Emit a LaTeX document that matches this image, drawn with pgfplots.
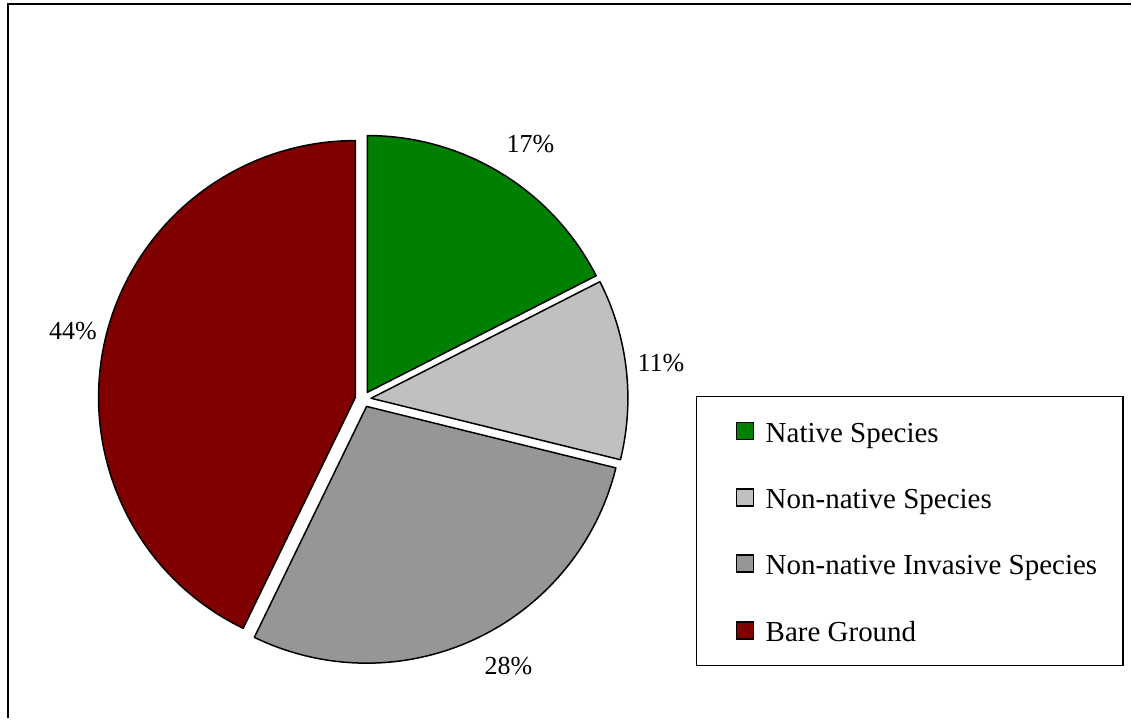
\documentclass[border=0pt]{standalone}
\usepackage{fontspec}
\setmainfont{Liberation Serif}
\usepackage{pgfplots}
\usepackage{pgfplotstable}
\pgfplotsset{compat=1.18}

\definecolor{native}{HTML}{008000}
\definecolor{nonnative}{HTML}{C0C0C0}
\definecolor{invasive}{HTML}{969696}
\definecolor{bare}{HTML}{800000}

% one row per slice: share as drawn (%), printed label, fill, label position, legend row
\pgfplotstableread{
name value lab col lx ly legy
{Native Species} 17.5 17 native 531 575 287.5
{Non-native Species} 11.35 11 nonnative 661.5 356 221
{Non-native Invasive Species} 28.35 28 invasive 509 52 155
{Bare Ground} 42.8 44 bare 73 388 88
}\pietable

\newcommand\labelfont{\fontsize{13pt}{15pt}\selectfont}
\newcommand\legfont{\fontsize{14.5pt}{17pt}\selectfont}

\begin{document}
\begin{tikzpicture}
\begin{axis}[width=566pt, height=359.5pt, scale only axis,
  xmin=0, xmax=1132, ymin=0, ymax=719, hide axis, clip=false]
\fill[white] (axis cs:0,0) rectangle (axis cs:1132,719);
\draw[line width=1pt] (axis cs:8,0) |- (axis cs:1132,715);
% legend box
\draw[line width=0.75pt] (axis cs:697,53) rectangle (axis cs:1124,322);
\pgfplotstablegetrowsof{\pietable}
\pgfmathtruncatemacro\nrows{\pgfplotsretval-1}
\def\cum{0}
\pgfplotsforeachungrouped \i in {0,...,\nrows}{
  \pgfplotstablegetelem{\i}{value}\of\pietable \let\sval\pgfplotsretval
  \pgfplotstablegetelem{\i}{lab}\of\pietable \let\slab\pgfplotsretval
  \pgfplotstablegetelem{\i}{col}\of\pietable \let\scol\pgfplotsretval
  \pgfplotstablegetelem{\i}{lx}\of\pietable \let\slx\pgfplotsretval
  \pgfplotstablegetelem{\i}{ly}\of\pietable \let\sly\pgfplotsretval
  \pgfplotstablegetelem{\i}{legy}\of\pietable \let\sleg\pgfplotsretval
  \pgfplotstablegetelem{\i}{name}\of\pietable \let\sname\pgfplotsretval
  \pgfmathsetmacro\as{90-3.6*\cum}
  \pgfmathsetmacro\ae{90-3.6*(\cum+\sval)}
  \pgfmathsetmacro\am{(\as+\ae)/2}
  \pgfmathsetmacro\vx{363.5+8*cos(\am)}
  \pgfmathsetmacro\vy{319.5+8*sin(\am)}
  \pgfmathsetmacro\lsb{\sleg-8.5}
  \pgfmathsetmacro\lst{\sleg+8.5}
  \pgfmathsetmacro\lbase{\sleg-11}
  \edef\temp{%
    \noexpand\draw[fill=\scol, line width=0.75pt, line join=round]
      (axis cs:\vx,\vy) -- ++(\as:128.5pt)
      arc[start angle=\as, end angle=\ae, radius=128.5pt] -- cycle;
    \noexpand\node[font=\noexpand\labelfont, inner sep=0pt]
      at (axis cs:\slx,\sly) {\slab\noexpand\%};
    \noexpand\draw[fill=\scol, line width=0.75pt]
      (axis cs:737,\lsb) rectangle (axis cs:754,\lst);
    \noexpand\node[font=\noexpand\legfont, inner sep=0pt, anchor=base west]
      at (axis cs:766,\lbase) {\unexpanded\expandafter{\sname}};
  }
  \temp
  \pgfmathsetmacro\cum{\cum+\sval}
}
\end{axis}
\end{tikzpicture}
\end{document}
